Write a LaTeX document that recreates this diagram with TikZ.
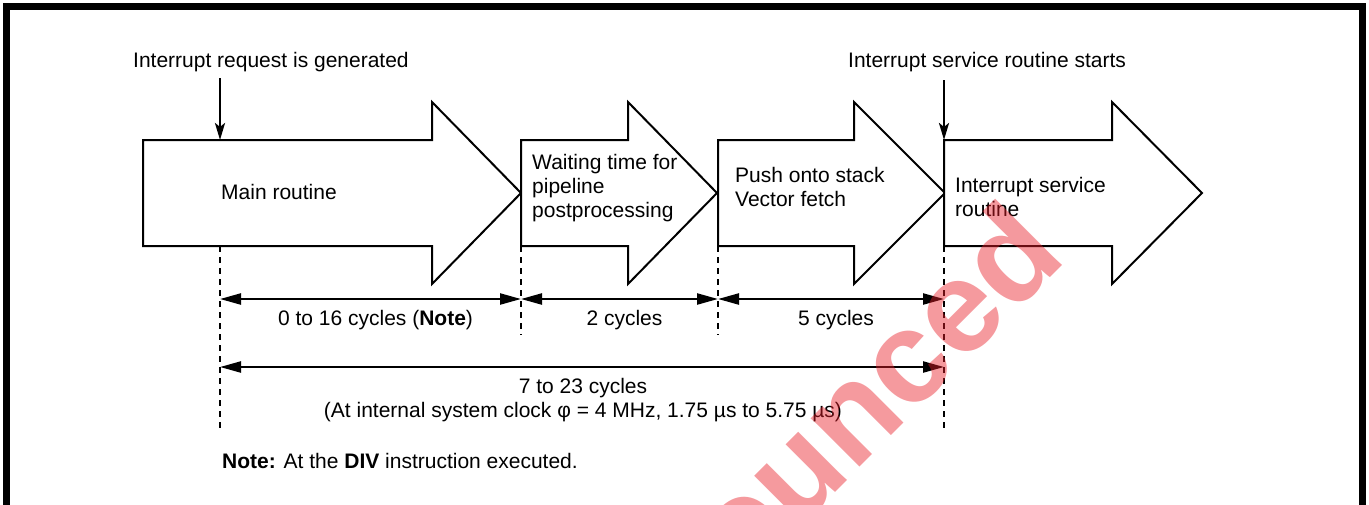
\documentclass[tikz,border=0pt]{standalone}
\usepackage{fontspec}
\setmainfont{Liberation Sans}
\usetikzlibrary{arrows.meta}
\definecolor{wmred}{RGB}{232,30,40}

\begin{document}
\begin{tikzpicture}[x=1pt,y=-1pt,
    stage/.style={draw,line width=2pt,fill=white,line join=miter},
    txt/.style={font=\fontsize{21}{23.8}\selectfont,inner sep=0pt,align=left},
    lbl/.style={txt,align=center,anchor=base,yshift=-26pt,xshift=5pt},
    span/.style={line width=2.3pt,{Triangle[length=21pt,width=11pt]}-{Triangle[length=21pt,width=11pt]}},
    irq/.style={line width=2.6pt,-{Stealth[length=17pt,width=10pt,inset=4pt]}},
    guide/.style={line width=1.3pt,dash pattern=on 6pt off 5pt}]
  \useasboundingbox (0,0) rectangle (1369,504);
  \draw[line width=6.5pt] (6.5,540) -- (6.5,6.5) -- (1362.5,6.5) -- (1362.5,540);
  \foreach \a/\b/\c in {143/432/521,521/628/717,718/854/945,944/1112/1202}
    \draw[stage] (\a,140) -- (\b,140) -- (\b,102) -- (\c,193) -- (\b,284) -- (\b,246) -- (\a,246) -- cycle;
  \node[txt,anchor=base west] (main) at (221,199) {Main routine};
  \node[txt,anchor=base west] (wait) at (532,217) {Waiting time for\\pipeline\\postprocessing};
  \node[txt,anchor=base west] (push) at (735,206) {Push onto stack\\Vector fetch};
  \node[txt,anchor=base west] (isr) at (955,216) {Interrupt service\\routine};
  \node[txt,anchor=base west] (reqtxt) at (133,67) {Interrupt request is generated};
  \node[txt,anchor=base west] (isrtxt) at (848,67) {Interrupt service routine starts};
  \coordinate (reqtop) at (220,78);
  \coordinate (isrtop) at (944,80);
  \foreach \n/\x in {0/220,1/521,2/718,3/944}
    \coordinate (g\n) at (\x,246);
  \draw[irq] (reqtop) -- (g0 |- 0,140);
  \draw[irq] (isrtop) -- (g3 |- 0,140);
  \draw[guide] (g0) -- ++(0,186);
  \draw[guide] (g1) -- ++(0,89);
  \draw[guide] (g2) -- ++(0,89);
  \draw[guide] (g3) -- ++(0,186);
  \draw[span] (g0 |- 0,299) -- node[lbl] {0 to 16 cycles (\textbf{Note})} (g1 |- 0,299);
  \draw[span] (g1 |- 0,299) -- node[lbl] {2 cycles} (g2 |- 0,299);
  \draw[span] (g2 |- 0,299) -- node[lbl] {5 cycles} (g3 |- 0,299);
  \draw[span] (g0 |- 0,367) -- node[lbl,yshift=-24pt,xshift=-4pt] {7 to 23 cycles\\(At internal system clock φ = 4 MHz, 1.75 µs to 5.75 µs)} (g3 |- 0,367);
  \node[txt,anchor=base west] (note) at (222,468) {\textbf{Note:} At the \textbf{DIV} instruction executed.};
  \node[rotate=45,text=wmred,opacity=.45,font=\fontsize{130}{130}\selectfont\bfseries] (wm) at (872,390) {ounced};
\end{tikzpicture}
\end{document}
